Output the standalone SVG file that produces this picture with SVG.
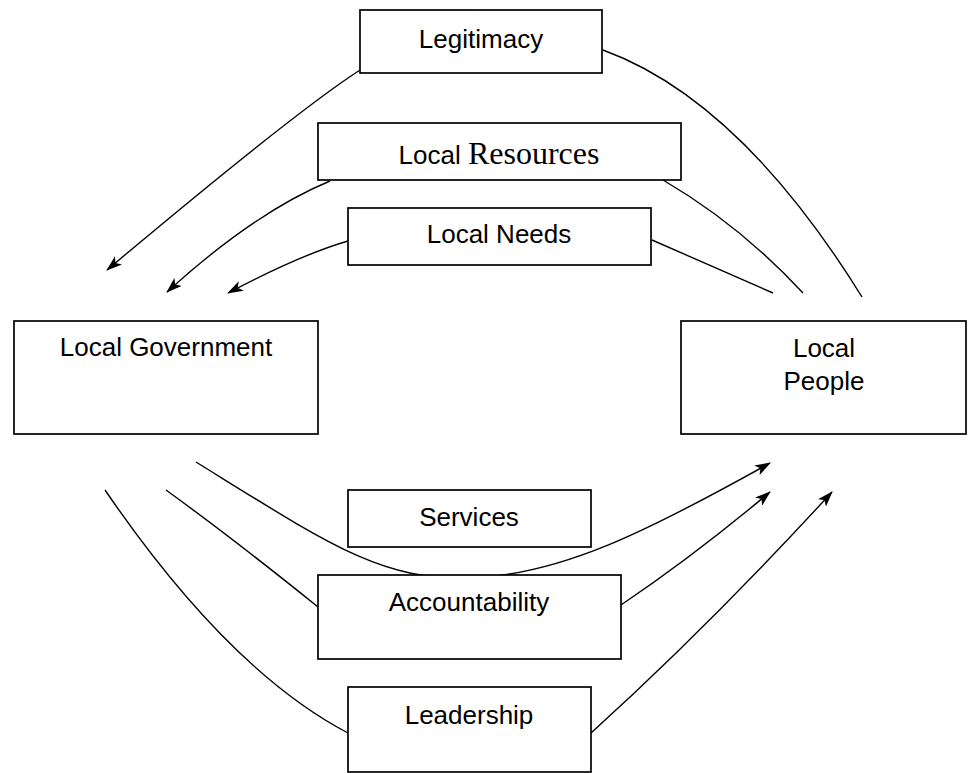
<svg xmlns="http://www.w3.org/2000/svg" width="968" height="773" viewBox="0 0 968 773">
<style>
.box{fill:#fff;stroke:#000;stroke-width:1.7}
.lbl{font-family:"Liberation Sans",Arial,sans-serif;font-size:26px;fill:#000;text-anchor:middle}
.serif{font-family:"Liberation Serif","Times New Roman",serif;font-size:32px}
.con{fill:none;stroke:#000;stroke-width:1.4}
</style>
<defs>
<marker id="arr" viewBox="0 0 16 11" refX="15" refY="5.5" markerWidth="16" markerHeight="11" orient="auto" markerUnits="userSpaceOnUse">
<path d="M0,0 L16,5.5 L0,11 L4,5.5 z" fill="#000"/>
</marker>
</defs>
<rect width="968" height="773" fill="#fff"/>
<g id="connectors">
<path class="con" marker-end="url(#arr)" d="M 862 297 Q 740 100 603 50 M 360 70 Q 295 112 107 270"/>
<path class="con" marker-end="url(#arr)" d="M 803 293 Q 740 225 663 180 M 330 181 Q 255 212 167 292"/>
<path class="con" marker-end="url(#arr)" d="M 773 293 L 652 240 M 348 241 Q 300 255 228 293"/>
<path class="con" marker-end="url(#arr)" d="M 196 462 C 330 545 380 580 468 578 C 560 576 650 530 770 463"/>
<path class="con" marker-end="url(#arr)" d="M 166 490 Q 235 540 318 607 M 621 605 Q 695 555 770 492"/>
<path class="con" marker-end="url(#arr)" d="M 105 490 Q 228 670 348 733 M 591 733 Q 710 625 832 492"/>
</g>
<g id="legitimacy">
<rect class="box" x="360" y="10" width="242" height="63"/>
<text class="lbl" x="481" y="48">Legitimacy</text>
</g>
<g id="local-resources">
<rect class="box" x="318" y="123" width="363" height="57"/>
<text class="lbl" x="499" y="164">Local <tspan class="serif">Resources</tspan></text>
</g>
<g id="local-needs">
<rect class="box" x="348" y="208" width="303" height="57"/>
<text class="lbl" x="499" y="243">Local Needs</text>
</g>
<g id="local-government">
<rect class="box" x="14" y="321" width="304" height="113"/>
<text class="lbl" x="166" y="356">Local Government</text>
</g>
<g id="local-people">
<rect class="box" x="681" y="321" width="285" height="113"/>
<text class="lbl" x="824" y="357">Local</text>
<text class="lbl" x="824" y="390">People</text>
</g>
<g id="services">
<rect class="box" x="348" y="490" width="243" height="57"/>
<text class="lbl" x="469" y="526">Services</text>
</g>
<g id="accountability">
<rect class="box" x="318" y="575" width="303" height="84"/>
<text class="lbl" x="469" y="611">Accountability</text>
</g>
<g id="leadership">
<rect class="box" x="348" y="687" width="243" height="85"/>
<text class="lbl" x="469" y="724">Leadership</text>
</g>
</svg>
